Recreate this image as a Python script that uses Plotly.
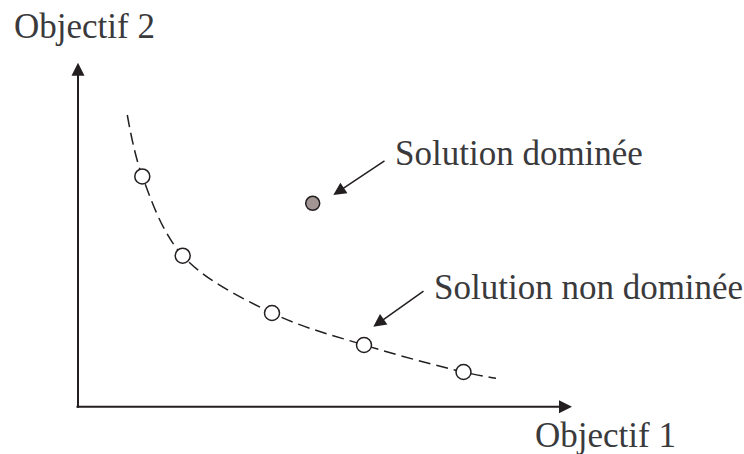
import plotly.graph_objects as go

# ---- data (abstract units: objective 1 / objective 2) ----
front_x = [1.286, 2.094, 3.88, 5.72, 7.71]
front_y = [4.606, 3.02, 1.874, 1.234, 0.694]
curve_x = [0.986, 1.286, 2.094, 3.88, 5.72, 7.71, 8.36]
curve_y = [5.834, 4.606, 3.02, 1.874, 1.234, 0.694, 0.568]
dominated_x = [4.694]
dominated_y = [4.068]
axis_labels = ["Objectif 1", "Objectif 2"]
point_labels = ["Solution dominée", "Solution non dominée"]

FONT = "Liberation Serif, Times New Roman, serif"
TXT = "#3a3a3c"
INK = "#231f20"

fig = go.Figure()
fig.add_trace(go.Scatter(x=curve_x, y=curve_y, mode="lines", line_shape="spline",
                         line=dict(color=INK, width=1.5, dash="12px,6px"),
                         hoverinfo="skip", showlegend=False))
fig.add_trace(go.Scatter(x=front_x, y=front_y, mode="markers",
                         marker=dict(size=15, color="white", line=dict(color=INK, width=1.5)),
                         showlegend=False))
fig.add_trace(go.Scatter(x=dominated_x, y=dominated_y, mode="markers",
                         marker=dict(size=14, color="#a29594", line=dict(color=INK, width=1.5)),
                         showlegend=False))

annotations = []
# axes as arrows
annotations.append(dict(x=9.88, y=0, ax=-0.06, ay=0, xref="x", yref="y", axref="x", ayref="y",
                        showarrow=True, arrowhead=2, arrowsize=1.3, arrowwidth=2, arrowcolor=INK,
                        standoff=0, startstandoff=0, text=""))
annotations.append(dict(x=0, y=6.88, ax=0, ay=-0.05, xref="x", yref="y", axref="x", ayref="y",
                        showarrow=True, arrowhead=2, arrowsize=1.3, arrowwidth=2, arrowcolor=INK,
                        standoff=0, startstandoff=0, text=""))
# pointer arrows
annotations.append(dict(x=5.106, y=4.234, ax=6.16, ay=4.934, xref="x", yref="y", axref="x", ayref="y",
                        showarrow=True, arrowhead=2, arrowsize=1.7, arrowwidth=1.5, arrowcolor=INK,
                        standoff=0, text=""))
annotations.append(dict(x=5.906, y=1.6, ax=6.94, ay=2.334, xref="x", yref="y", axref="x", ayref="y",
                        showarrow=True, arrowhead=2, arrowsize=1.7, arrowwidth=1.5, arrowcolor=INK,
                        standoff=0, text=""))
# text labels
label_font = dict(family=FONT, size=35, color=TXT)
annotations.append(dict(x=-1.32, y=7.6, xref="x", yref="y", text=axis_labels[1],
                        showarrow=False, xanchor="left", yanchor="middle", font=label_font))
annotations.append(dict(x=9.1, y=-0.57, xref="x", yref="y", text=axis_labels[0],
                        showarrow=False, xanchor="left", yanchor="middle", font=label_font))
annotations.append(dict(x=6.3, y=5.06, xref="x", yref="y", text=point_labels[0],
                        showarrow=False, xanchor="left", yanchor="middle", font=label_font))
annotations.append(dict(x=7.08, y=2.39, xref="x", yref="y", text=point_labels[1],
                        showarrow=False, xanchor="left", yanchor="middle", font=label_font))

fig.update_layout(
    width=744, height=454,
    margin=dict(l=0, r=0, t=0, b=0),
    paper_bgcolor="white", plot_bgcolor="white",
    xaxis=dict(range=[-1.56, 13.32], visible=False, fixedrange=True),
    yaxis=dict(range=[-0.946, 8.134], visible=False, fixedrange=True),
    annotations=annotations,
    showlegend=False,
)
fig.write_html("out.html", config={"displayModeBar": False},
               post_script="document.body.style.margin='0';document.body.style.overflow='hidden';")
